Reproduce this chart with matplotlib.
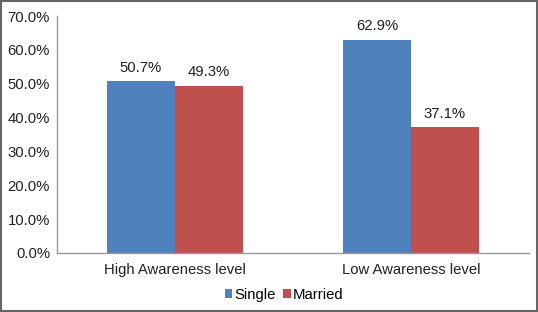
import numpy as np
import matplotlib.pyplot as plt
from matplotlib.ticker import FuncFormatter

plt.rcParams['font.family'] = ['Liberation Sans', 'DejaVu Sans']

categories = ['High Awareness level', 'Low Awareness level']
single = [50.7, 62.9]
married = [49.3, 37.1]
series_names = ['Single', 'Married']

FS = 10.7

fig = plt.figure(figsize=(5.38, 3.12), dpi=100)
ax = fig.add_axes([57 / 538, 59 / 312, 472 / 538, 237 / 312])

x = np.arange(len(categories))
w = 0.288
b1 = ax.bar(x - w / 2, single, w, color='#4F81BD', label=series_names[0])
b2 = ax.bar(x + w / 2, married, w, color='#C0504D', label=series_names[1])

# value labels above bars
for bars in (b1, b2):
    for r in bars:
        ax.text(r.get_x() + r.get_width() / 2, r.get_height() + 2.0,
                f'{r.get_height():.1f}%', ha='center', va='bottom',
                fontsize=FS, color='#222222')

ax.set_xlim(-0.5, 1.5)
ax.set_ylim(0, 70)
ax.set_yticks(np.arange(0, 71, 10))
ax.yaxis.set_major_formatter(FuncFormatter(lambda v, p: f'{v:.1f}%'))
ax.set_xticks(x)
ax.set_xticklabels(categories)
ax.tick_params(length=0, labelsize=FS, colors='#222222')
ax.tick_params(axis='y', pad=5)
ax.tick_params(axis='x', pad=7)
for s in ('top', 'right'):
    ax.spines[s].set_visible(False)
for s in ('left', 'bottom'):
    ax.spines[s].set_color('#999999')
    ax.spines[s].set_linewidth(1)

fig.legend(handles=[b1, b2], loc='center', bbox_to_anchor=(284 / 538, 17 / 312),
           ncol=2, frameon=False, fontsize=FS, handlelength=0.5,
           handleheight=0.5, handletextpad=0.15, columnspacing=0.5)

# grey border around the whole figure
fig.patches.append(plt.Rectangle((0.001, 0.002), 0.997, 0.996, transform=fig.transFigure,
                                 fill=False, edgecolor='#666666', linewidth=1.5))

fig.savefig('out.png', dpi=100)
